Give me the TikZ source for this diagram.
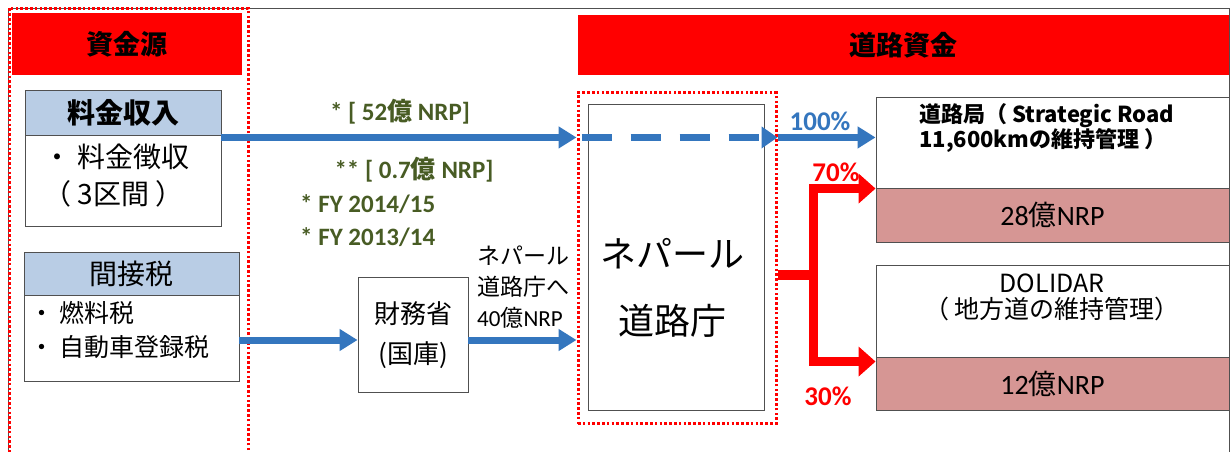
\documentclass[tikz,border=0pt]{standalone}
\usepackage{fontspec}
\setmainfont{Carlito}
\newfontfamily\jp{Noto Sans CJK JP}
\usetikzlibrary{arrows.meta,calc}
\definecolor{blu}{RGB}{52,118,190}
\definecolor{hdrblue}{RGB}{185,205,229}
\definecolor{rose}{RGB}{214,150,148}
\definecolor{olive}{RGB}{72,92,36}
\definecolor{frame}{RGB}{80,80,80}
\begin{document}
\begin{tikzpicture}[x=1pt,y=-1pt,
  hdr/.style={fill=red,draw=none,inner sep=0pt,font={\jp\bfseries\fontsize{27pt}{32pt}\selectfont}},
  bx/.style={draw=frame,line width=0.9pt,inner sep=0pt},
  lbhead/.style={bx,fill=hdrblue},
  rosebox/.style={bx,fill=rose,font={\fontsize{28pt}{32pt}\selectfont}},
  reddot/.style={draw=red,line width=3pt,dash pattern=on 2.6pt off 2.2pt,inner sep=0pt},
  barrow/.style={draw=blu,line width=7pt,-{Triangle[length=18pt,width=21pt]}},
  rarrow/.style={draw=red,line width=9pt,line join=miter,-{Triangle[length=17pt,width=29pt]}},
  greentxt/.style={text=olive,font={\bfseries\fontsize{25pt}{28pt}\selectfont},inner sep=0pt},
  pct/.style={font={\bfseries\fontsize{27pt}{30pt}\selectfont},inner sep=0pt}
]
\useasboundingbox (0,0) rectangle (1232,451);
\clip (0,0) rectangle (1232,451);
\fill[white] (0,0) rectangle (1232,451);
\draw[frame,line width=0.9pt] (8,8) rectangle (1229,480);

% headers
\node[hdr,minimum width=230pt,minimum height=62pt] (srchead) at (127,44) {資金源};
\node[hdr,minimum width=651pt,minimum height=60pt] (rdhead) at (903.5,45) {道路資金};

% source boxes
\node[lbhead,minimum width=196pt,minimum height=45pt,font={\jp\bfseries\fontsize{28pt}{32pt}\selectfont}] (tollhead) at (123,112.5) {料金収入};
\node[bx,minimum width=196pt,minimum height=91pt] (tollbody) at (123,180.5) {};
\node[anchor=west,align=left,inner sep=0pt,font={\jp\fontsize{28pt}{37pt}\selectfont}] (tolltxt) at (43,176) {・ 料金徴収\\（ 3区間 ）};

\node[lbhead,minimum width=215pt,minimum height=43pt,font={\jp\fontsize{28pt}{32pt}\selectfont}] (taxhead) at (131.5,273.5) {間接税};
\node[bx,minimum width=215pt,minimum height=86pt] (taxbody) at (131.5,338) {};
\node[anchor=west,align=left,inner sep=0pt,font={\jp\fontsize{25pt}{34pt}\selectfont}] (taxtxt) at (29,330) {・ 燃料税\\・ 自動車登録税};

% ministry of finance
\node[bx,minimum width=110pt,minimum height=115pt,align=center,font={\jp\fontsize{26pt}{40pt}\selectfont}] (mof) at (413,335) {財務省\\(国庫)};

% road board
\node[bx,minimum width=176pt,minimum height=306pt] (dor) at (676,257) {};
\node[align=center,inner sep=0pt,font={\jp\fontsize{36pt}{67pt}\selectfont}] (dortxt) at (672,288) {ネパール\\道路庁};
\node[reddot,minimum width=198pt,minimum height=331pt] (dorframe) at (677,258) {};
\node[reddot,minimum width=239pt,minimum height=472pt] (srcframe) at (128.5,244) {};

% recipients
\node[bx,fill=white,minimum width=353pt,minimum height=91pt] (dorbox) at (1052.5,142.5) {};
\node[anchor=west,align=left,inner sep=0pt,font={\jp\bfseries\fontsize{22pt}{25pt}\selectfont}] (dorboxtxt) at (919,128) {道路局（ Strategic Road\\11,600kmの維持管理 ）};
\node[rosebox,minimum width=353pt,minimum height=54pt] (amt1) at (1052.5,215) {28{\jp 億}NRP};
\node[bx,fill=white,minimum width=353pt,minimum height=92pt] (dol) at (1052.5,311) {};
\node[align=center,inner sep=0pt,font={\jp\fontsize{25pt}{26pt}\selectfont}] (doltxt) at (1052,297) {DOLIDAR\\（ 地方道の維持管理）};
\node[rosebox,minimum width=353pt,minimum height=53pt] (amt2) at (1052.5,383.5) {12{\jp 億}NRP};

% labels
\node[greentxt] (l52) at (400,112) {* [ 52{\jp 億} NRP]};
\node[greentxt] (l07) at (414,170) {** [ 0.7{\jp 億} NRP]};
\node[greentxt,anchor=west] (fy1) at (300,204) {* FY 2014/15};
\node[greentxt,anchor=west] (fy2) at (300,237) {* FY 2013/14};
\node[anchor=west,align=left,inner sep=0pt,font={\jp\fontsize{23pt}{31pt}\selectfont}] (tolbl) at (477,287) {ネパール\\道路庁へ\\{\rmfamily 40}億{\rmfamily NRP}};
\node[pct,text=blu] (p100) at (820,121) {100\%};
\node[pct,text=red] (p70) at (836,172) {70\%};
\node[pct,text=red] (p30) at (828,396) {30\%};

% connectors
\coordinate (a1s) at ($(tollhead.south east)+(0,2)$);
\draw[barrow] (a1s) -- (a1s -| dorframe.west);
\draw[draw=blu,line width=7pt,dash pattern=on 30pt off 19pt,-{Triangle[length=16pt,width=21pt]}] ($(a1s -| dorframe.west)+(5,0)$) -- (a1s -| dorframe.east);
\draw[barrow] (a1s -| dorframe.east) -- (a1s -| dorbox.west);
\coordinate (a2s) at ($(taxbody.east)+(0,2)$);
\draw[barrow] (a2s) -- (a2s -| mof.west);
\draw[barrow] (a2s -| mof.east) -- (a2s -| dorframe.west);

\coordinate (split) at (813,275);
\draw[red,line width=10pt] (dorframe.east |- split) -- ($(split)+(4,0)$);
\draw[rarrow] (split) |- ($(amt1.north west)+(0,1)$);
\draw[rarrow] (split) |- ($(amt2.north west)+(0,5)$);
\end{tikzpicture}
\end{document}
